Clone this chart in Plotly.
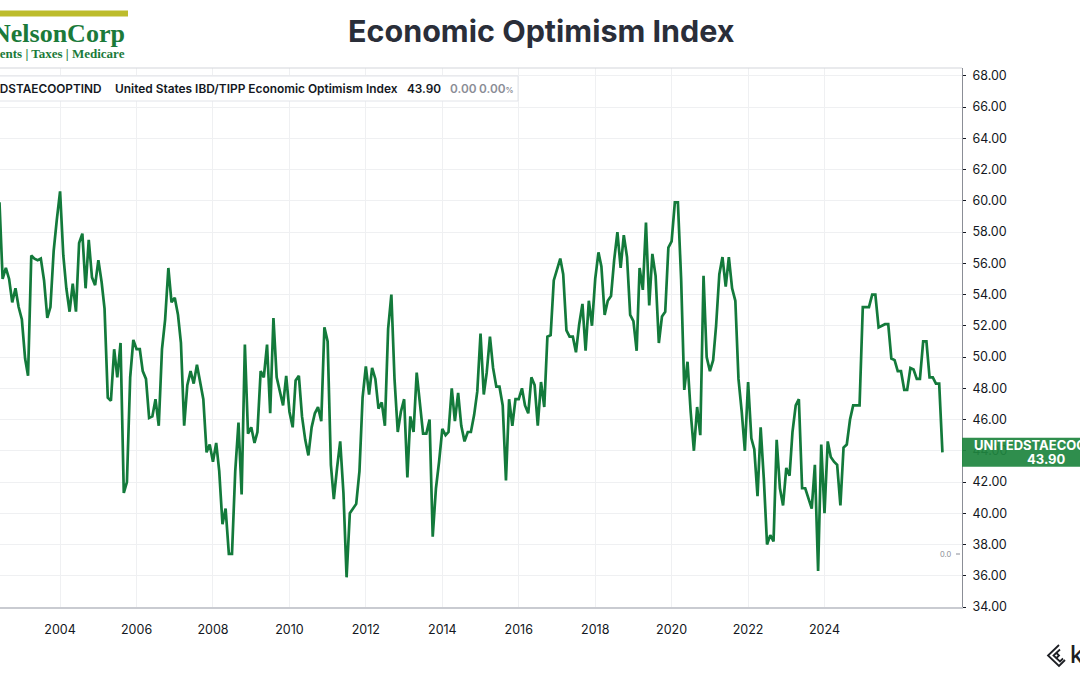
import plotly.graph_objects as go
import pandas as pd

# ---------------- data ----------------
values = [
    59.9, 55.0, 55.7, 55.0, 53.5, 54.4, 53.2, 52.4, 49.9, 48.8,
    56.5, 56.3, 56.2, 56.3, 54.9, 52.5, 53.2, 56.8, 58.8, 60.6,
    56.5, 54.4, 52.9, 54.7, 52.9, 57.3, 57.9, 54.4, 57.5, 55.1,
    54.6, 56.2, 54.8, 53.1, 47.4, 47.2, 50.5, 48.7, 50.9, 41.3,
    42.0, 48.7, 51.1, 50.5, 50.5, 49.1, 48.6, 46.1, 46.2, 47.3,
    45.6, 50.5, 52.4, 55.7, 53.5, 53.8, 52.7, 50.9, 45.6, 48.2,
    49.1, 48.3, 49.5, 48.4, 47.3, 43.9, 44.4, 43.3, 44.5, 42.7,
    39.3, 40.3, 37.4, 37.4, 42.7, 45.8, 41.2, 50.8, 45.1, 45.5,
    44.5, 45.2, 49.1, 48.7, 50.8, 46.4, 52.5, 48.7, 47.9, 46.9,
    48.8, 46.5, 45.5, 48.5, 48.8, 46.2, 44.7, 43.7, 45.5, 46.4,
    46.8, 45.9, 51.9, 51.0, 43.1, 40.9, 42.9, 44.6, 41.3, 35.9,
    40.0, 40.3, 40.6, 42.7, 47.4, 49.4, 47.6, 49.3, 48.6, 46.7,
    47.1, 45.6, 51.8, 54.0, 48.6, 45.2, 46.5, 47.3, 42.3, 46.2,
    45.2, 49.0, 47.1, 45.1, 45.1, 46.0, 38.5, 41.6, 43.3, 45.4,
    45.0, 45.2, 48.0, 45.9, 47.7, 45.6, 44.6, 45.2, 45.2, 46.3,
    47.8, 51.5, 47.6, 49.0, 51.3, 49.3, 48.1, 48.1, 46.9, 42.1,
    47.3, 45.6, 47.3, 47.3, 48.0, 46.9, 46.4, 48.7, 48.2, 45.6,
    48.4, 46.8, 51.3, 51.4, 54.9, 55.6, 56.3, 55.3, 51.7, 51.3,
    51.3, 50.3, 52.1, 53.4, 50.4, 53.6, 52.0, 55.0, 56.7, 55.8,
    52.7, 53.6, 53.9, 56.2, 58.0, 55.7, 57.8, 56.4, 52.7, 52.3,
    50.4, 55.7, 54.3, 58.6, 53.3, 56.6, 55.2, 50.9, 52.6, 52.9,
    57.0, 57.4, 59.9, 59.9, 55.0, 47.9, 49.7, 46.5, 44.0, 46.8,
    45.0, 55.2, 50.0, 49.1, 49.8, 52.0, 55.3, 56.4, 54.5, 56.4,
    54.4, 53.6, 48.6, 46.5, 44.0, 48.4, 44.8, 44.1, 41.1, 45.5,
    42.1, 38.0, 38.6, 38.2, 44.7, 41.6, 40.5, 42.9, 42.4, 45.2,
    46.9, 47.3, 41.6, 41.6, 41.0, 40.3, 43.1, 36.3, 44.4, 40.0,
    44.6, 43.6, 43.3, 43.1, 40.5, 44.2, 44.4, 46.0, 46.9, 46.9,
    46.9, 53.2, 53.2, 53.2, 54.0, 54.0, 51.9, 52.0, 52.1, 52.1,
    49.9, 49.8, 49.1, 49.1, 47.9, 47.9, 49.3, 49.2, 48.6, 48.6,
    51.0, 51.0, 48.7, 48.7, 48.3, 48.3, 43.9,
]
start_month = "2002-06-01"
tick_years = [2004, 2006, 2008, 2010, 2012, 2014, 2016, 2018, 2020, 2022, 2024]
y_ticks = [34, 36, 38, 40, 42, 44, 46, 48, 50, 52, 54, 56, 58, 60, 62, 64, 66, 68]

title_text = "Economic Optimism Index"
series_code = "UNITEDSTAECOOPTIND"
series_name = "United States IBD/TIPP Economic Optimism Index"
last_label = "43.90"
change_label = "0.00"
change_pct_label = "0.00"

dates = pd.date_range(start_month, periods=len(values), freq="MS")
last_value = values[-1]

# ---------------- geometry helpers ----------------
W, H = 1080, 675
PL, PR, PT, PB = 0, 962, 68, 607
PW, PH = PR - PL, PB - PT


def px(x):
    return (x - PL) / PW


def py(y):
    return (PB - y) / PH


GREEN = "#137a3b"
TXT = "#131722"
GREY = "#8a8d96"
GRID = "#eff0f2"
FONT = "Inter"

x_range = [dates[0] + pd.Timedelta(days=5),
           dates[0] + pd.DateOffset(months=302) + pd.Timedelta(days=6)]

fig = go.Figure()
fig.add_trace(go.Scatter(
    x=dates, y=values, mode="lines",
    line=dict(color=GREEN, width=2.7),
    hoverinfo="skip", showlegend=False,
))

shapes = []
# top border of chart pane
shapes.append(dict(type="line", xref="paper", yref="paper", x0=0, x1=1, y0=1, y1=1,
                   line=dict(color="#d3d5da", width=1)))
# logo bar
shapes.append(dict(type="rect", xref="paper", yref="paper",
                   x0=px(-2), x1=px(128), y0=py(16.5), y1=py(10.5),
                   fillcolor="#bdbc2c", line=dict(width=0)))
# legend box
shapes.append(dict(type="rect", xref="paper", yref="paper",
                   x0=px(-6), x1=px(518), y0=py(101), y1=py(76),
                   fillcolor="white", line=dict(color="#e2e4e9", width=1)))
# last value badge
shapes.append(dict(type="rect", xref="paper", yref="y",
                   x0=1.0, x1=px(1085), y0=last_value - 0.93, y1=last_value + 0.93,
                   fillcolor="#1f8540", opacity=0.93, line=dict(width=0), layer="above"))
# small "0.0" tick
shapes.append(dict(type="line", xref="paper", yref="paper",
                   x0=px(956), x1=px(960), y0=py(554), y1=py(554),
                   line=dict(color=GREY, width=1)))


# Koyfin mark
def path(points):
    return "M " + " L ".join(f"{px(a):.5f},{py(b):.5f}" for a, b in points)


for pts in ([(1059, 645), (1048, 655.5), (1059, 666), (1065, 660)],
            [(1060, 649.5), (1053.5, 655.5), (1060, 661.5), (1063, 658.5)],
            [(1056, 652.5), (1059, 655.5), (1056, 658.5)]):
    shapes.append(dict(type="path", xref="paper", yref="paper", path=path(pts),
                       line=dict(color="#1d1f24", width=1.8)))

ann = []
ann.append(dict(text=f"<b>{title_text}</b>", xref="paper", yref="paper",
                x=px(541), y=py(30), xanchor="center", yanchor="middle", showarrow=False,
                font=dict(family=FONT, size=30.5, color="#2a2e39")))
ann.append(dict(text="<b>NelsonCorp</b>", xref="paper", yref="paper",
                x=px(127), y=py(33), xanchor="right", yanchor="middle", showarrow=False,
                font=dict(family="Liberation Serif", size=26, color="#1b7a3a")))
ann.append(dict(text="<b>Investments | Taxes | Medicare</b>", xref="paper", yref="paper",
                x=px(127), y=py(54), xanchor="right", yanchor="middle", showarrow=False,
                font=dict(family="Liberation Serif", size=13, color="#1b7a3a")))
# legend text
ann.append(dict(text=series_code, xref="paper", yref="paper", x=px(103), y=py(88.5),
                xanchor="right", yanchor="middle", showarrow=False,
                font=dict(family=FONT, size=11.8, color=TXT, weight=600)))
ann.append(dict(text=series_name, xref="paper", yref="paper", x=px(113), y=py(88.5),
                xanchor="left", yanchor="middle", showarrow=False,
                font=dict(family=FONT, size=11.9, color=TXT, weight=600)))
ann.append(dict(text=last_label, xref="paper", yref="paper", x=px(404.5), y=py(88.5),
                xanchor="left", yanchor="middle", showarrow=False,
                font=dict(family=FONT, size=11.8, color=TXT, weight=600)))
ann.append(dict(text=change_label, xref="paper", yref="paper", x=px(447.5), y=py(88.5),
                xanchor="left", yanchor="middle", showarrow=False,
                font=dict(family=FONT, size=11.8, color=GREY, weight=600)))
ann.append(dict(text=change_pct_label + "<span style='font-size:8px'>%</span>",
                xref="paper", yref="paper", x=px(477), y=py(88.5),
                xanchor="left", yanchor="middle", showarrow=False,
                font=dict(family=FONT, size=11.8, color=GREY, weight=600)))
# badge text
ann.append(dict(text=series_code, xref="paper", yref="y", x=px(972), y=last_value + 0.45,
                xanchor="left", yanchor="middle", showarrow=False,
                font=dict(family=FONT, size=13, color="white", weight=700)))
ann.append(dict(text=last_label, xref="paper", yref="y", x=px(1046), y=last_value - 0.42,
                xanchor="center", yanchor="middle", showarrow=False,
                font=dict(family=FONT, size=13, color="white", weight=700)))
ann.append(dict(text="0.0", xref="paper", yref="paper", x=px(954), y=py(554),
                xanchor="right", yanchor="middle", showarrow=False,
                font=dict(family=FONT, size=7.5, color=GREY)))
ann.append(dict(text="k", xref="paper", yref="paper", x=px(1068), y=py(654),
                xanchor="left", yanchor="middle", showarrow=False,
                font=dict(family=FONT, size=24, color="#1d1f24", weight=500)))

fig.update_layout(
    width=W, height=H,
    margin=dict(l=PL, r=W - PR, t=PT, b=H - PB, pad=0),
    paper_bgcolor="white", plot_bgcolor="white",
    showlegend=False,
    font=dict(family=FONT, color=TXT),
    shapes=shapes, annotations=ann,
    xaxis=dict(
        type="date", range=x_range,
        tickvals=[pd.Timestamp(f"{y}-01-01") for y in tick_years],
        ticktext=[str(y) for y in tick_years],
        showgrid=True, gridcolor=GRID, gridwidth=1,
        showline=True, linecolor="#c9cbd1", linewidth=1.5,
        ticks="", zeroline=False,
        tickfont=dict(family=FONT, size=12.5, color=TXT),
        ticklabelstandoff=10,
    ),
    yaxis=dict(
        side="right", range=[34, 68.5],
        tickvals=y_ticks, ticktext=[f"{v:.2f}" for v in y_ticks],
        showgrid=True, gridcolor=GRID, gridwidth=1,
        showline=True, linecolor="#8b8e96", linewidth=1,
        ticks="outside", ticklen=3, tickcolor=TXT,
        zeroline=False,
        tickfont=dict(family=FONT, size=12.5, color=TXT),
        ticklabelstandoff=4,
    ),
)

fig.write_html(
    "out.html",
    config={"displayModeBar": False, "staticPlot": True},
    post_script="document.body.style.margin='0';document.body.style.overflow='hidden';",
)
